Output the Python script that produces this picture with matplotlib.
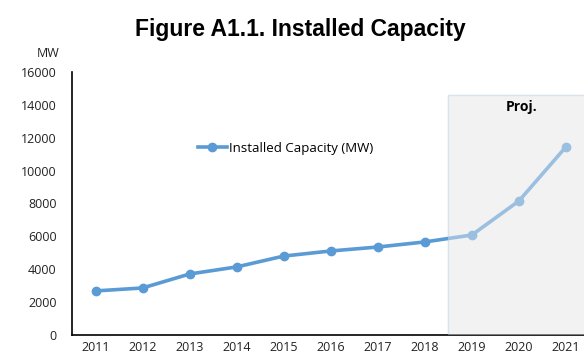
import matplotlib
matplotlib.use('Agg')
import matplotlib.pyplot as plt
from matplotlib.patches import Rectangle

years = ['2011', '2012', '2013', '2014', '2015', '2016', '2017', '2018', '2019', '2020', '2021']
capacity = [2680, 2860, 3710, 4140, 4800, 5110, 5350, 5660, 6080, 8150, 11440]
proj_start = 7.5      # projections begin after 2018
proj_top = 14600

plt.rcParams['font.family'] = ['Open Sans', 'DejaVu Sans']

fig = plt.figure(figsize=(5.84, 3.56), dpi=100)
ax = fig.add_axes([0.1233, 0.059, 0.886, 0.739])

x = list(range(len(years)))
ax.add_patch(Rectangle((proj_start, 0), 3.5, proj_top, facecolor='#f2f2f2',
                       edgecolor='#c9d8e6', lw=1, zorder=1))
ax.plot(x, capacity, color='#5b9bd5', lw=2.6, marker='o', ms=6,
        label='Installed Capacity (MW)', zorder=2)
# wash over the projected part of the line
ax.add_patch(Rectangle((proj_start, 0), 3.5, proj_top, facecolor='#f2f2f2',
                       edgecolor='none', alpha=0.42, zorder=3))
ax.text(9.05, 13600, 'Proj.', fontsize=10, fontweight='bold', ha='center', zorder=4)

ax.set_xlim(-0.5, 10.5)
ax.set_ylim(0, 16000)
ax.set_yticks(range(0, 16001, 2000))
ax.set_xticks(x)
ax.set_xticklabels(years)
ax.tick_params(length=0, labelsize=9, colors='#222222')
ax.tick_params(axis='x', pad=4)
ax.tick_params(axis='y', pad=11)
for s in ['top', 'right']:
    ax.spines[s].set_visible(False)
ax.spines['left'].set_linewidth(1.2)
ax.spines['bottom'].set_linewidth(1.2)

ax.legend(loc='center left', bbox_to_anchor=(0.22, 0.71), frameon=False,
          fontsize=9.5, handlelength=2.2, handletextpad=0.2)

fig.text(0.082, 0.84, 'MW', fontsize=9, ha='center', color='#222222')
fig.text(0.515, 0.9, 'Figure A1.1. Installed Capacity', fontsize=16.5,
         fontweight='bold', ha='center', family='Liberation Sans')

fig.savefig('out.png', dpi=100)
